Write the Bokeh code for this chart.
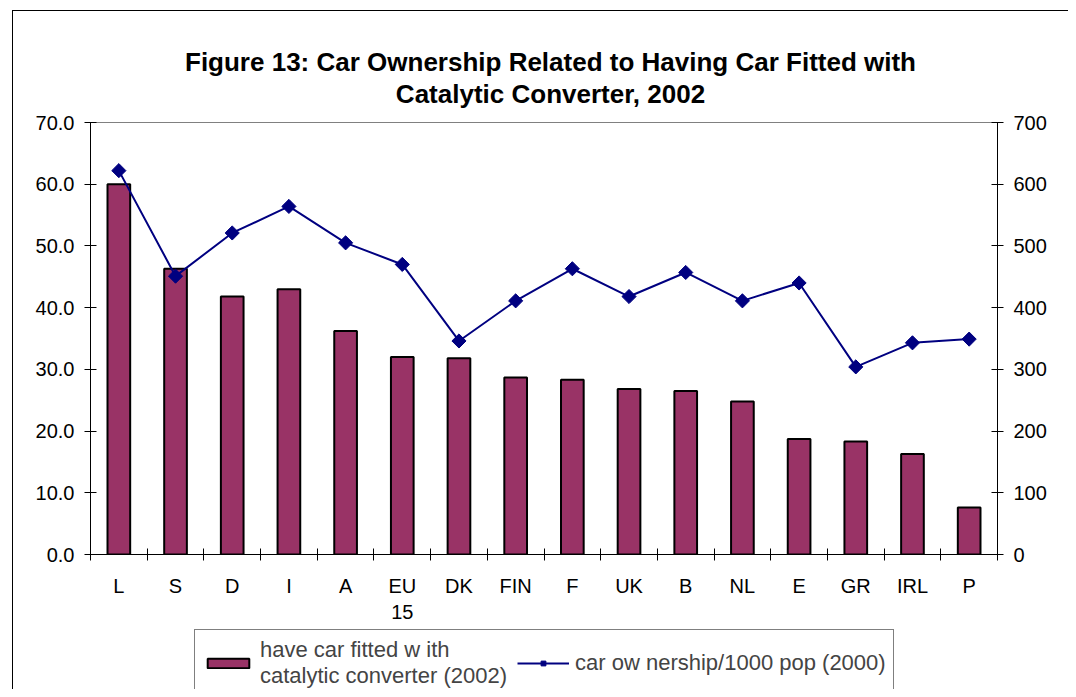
import math
from bokeh.plotting import figure
from bokeh.layouts import column
from bokeh.models import (Range1d, LinearAxis, FixedTicker, PrintfTickFormatter,
                          Legend, LegendItem, Label, ColumnDataSource)
from bokeh.embed import file_html
from bokeh.resources import INLINE

# ---- data ----
countries = ["L", "S", "D", "I", "A", "EU\n15", "DK", "FIN", "F", "UK", "B", "NL", "E", "GR", "IRL", "P"]
catalytic_2002 = [60.0, 46.3, 41.8, 43.0, 36.2, 32.0, 31.8, 28.7, 28.3, 26.8, 26.5, 24.8, 18.7, 18.3, 16.3, 7.6]
ownership_2000 = [622, 451, 521, 564, 505, 470, 346, 411, 463, 418, 457, 411, 440, 304, 343, 349]
left_ticks = [0, 10, 20, 30, 40, 50, 60, 70]
right_ticks = [0, 100, 200, 300, 400, 500, 600, 700]
title_lines = ["Figure 13: Car Ownership Related to Having Car Fitted with",
               "Catalytic Converter, 2002"]
bar_label = "have car fitted w ith\ncatalytic converter (2002)"
line_label = "car ow nership/1000 pop (2000)"

FONT = "Liberation Sans"
BAR = "#993366"
NAVY = "#000080"

xs = [i + 0.5 for i in range(len(countries))]
src = ColumnDataSource(dict(x=xs, cat=catalytic_2002, own=ownership_2000))

W = 1068
FRAME_L, FRAME_R, FRAME_T, FRAME_B = 90, 997, 122, 554
BL, BR = FRAME_L, W - FRAME_R
H0, H2 = 112, 61
H1 = 628 - H0


def blank(fig):
    fig.title = None
    fig.grid.visible = False
    fig.outline_line_color = None
    fig.background_fill_alpha = 0
    fig.border_fill_alpha = 0


# ---------------- title strip ----------------
tf = figure(width=W, height=H0, output_backend="svg", toolbar_location=None,
            x_range=Range1d(FRAME_L, FRAME_R), y_range=Range1d(H0, 0),
            min_border_left=BL, min_border_right=BR, min_border_top=0, min_border_bottom=0,
            x_axis_location=None, y_axis_location=None)
blank(tf)
tf.styles = {"background": "linear-gradient(#000,#000) 12px 10px / 1px 100% no-repeat, "
                           "linear-gradient(#000,#000) 12px 10px / 100% 1px no-repeat, #fff"}
for txt, base in zip(title_lines, [61, 93]):
    tf.add_layout(Label(x=550, y=base, text=txt, text_align="center", text_baseline="alphabetic",
                        text_font=FONT, text_font_size="26px", text_font_style="bold",
                        text_color="black"))

# ---------------- main chart ----------------
p = figure(width=W, height=H1, output_backend="svg", toolbar_location=None,
           x_range=Range1d(0, len(countries)), y_range=Range1d(0, 70),
           min_border_left=BL, min_border_right=BR, min_border_top=FRAME_T - H0,
           min_border_bottom=H1 - (FRAME_B - H0),
           x_axis_location=None, y_axis_location=None)
p.title = None
p.grid.visible = False
p.outline_line_color = "#808080"
p.outline_line_width = 1
p.background_fill_color = "white"
p.border_fill_alpha = 0
p.styles = {"background": "linear-gradient(#000,#000) 12px 0px / 1px 100% no-repeat, #fff"}

p.extra_y_ranges = {"own": Range1d(0, 700)}

xaxis = LinearAxis(ticker=FixedTicker(ticks=xs, minor_ticks=list(range(len(countries) + 1))))
xaxis.major_label_overrides = {x: c for x, c in zip(xs, countries)}
xaxis.major_tick_line_color = None
xaxis.major_tick_in = 0
xaxis.major_tick_out = 0
xaxis.minor_tick_line_color = "black"
xaxis.minor_tick_in = 6
xaxis.minor_tick_out = 6
xaxis.major_label_standoff = 14
p.add_layout(xaxis, "below")

yl = LinearAxis(ticker=FixedTicker(ticks=left_ticks), formatter=PrintfTickFormatter(format="%.1f"))
yl.major_label_standoff = 10
p.add_layout(yl, "left")

yr = LinearAxis(y_range_name="own", ticker=FixedTicker(ticks=right_ticks))
yr.major_label_standoff = 10
p.add_layout(yr, "right")

for ax in (xaxis, yl, yr):
    ax.axis_line_color = "black"
    ax.axis_line_width = 1
    ax.major_label_text_font = FONT
    ax.major_label_text_font_size = "20px"
    ax.major_label_text_color = "black"
for ax in (yl, yr):
    ax.minor_tick_line_color = None
    ax.major_tick_line_color = "black"
    ax.major_tick_in = 6
    ax.major_tick_out = 6

bars = p.vbar(x="x", top="cat", width=0.4, bottom=0, source=src,
              fill_color=BAR, line_color="black", line_width=2)
line = p.line(x="x", y="own", source=src, y_range_name="own", line_color=NAVY, line_width=2)
pts = p.scatter(x="x", y="own", source=src, y_range_name="own", marker="square",
                angle=math.pi / 4, size=10, fill_color=NAVY, line_color=NAVY)

# ---------------- legend strip ----------------
lg = figure(width=W, height=H2, output_backend="svg", toolbar_location=None,
            x_range=Range1d(0, 1), y_range=Range1d(0, 1),
            min_border_left=BL, min_border_right=BR, min_border_top=0, min_border_bottom=0,
            x_axis_location=None, y_axis_location=None)
blank(lg)
lg.styles = {"background": "linear-gradient(#000,#000) 12px 0px / 1px 100% no-repeat, #fff"}

# legend swatches (no visible data, only the legend shows their style)
swatch = ColumnDataSource(dict(x=[float("nan")], y=[float("nan")]))
lb = lg.vbar(x="x", top="y", width=0.4, source=swatch, fill_color=BAR, line_color="black", line_width=2)
ll = lg.line(x="x", y="y", source=swatch, line_color=NAVY, line_width=2)
lp = lg.scatter(x="x", y="y", source=swatch, marker="square", angle=math.pi / 4, size=10,
                fill_color=NAVY, line_color=NAVY)

legend = Legend(items=[LegendItem(label=bar_label, renderers=[lb]),
                       LegendItem(label=line_label, renderers=[ll, lp])],
                orientation="horizontal", location=(194 - BL, -8))
legend.border_line_color = "black"
legend.border_line_width = 1
legend.background_fill_color = "white"
legend.background_fill_alpha = 1
legend.label_text_font = FONT
legend.label_text_font_size = "22px"
legend.label_standoff = 6
legend.glyph_width = 52
legend.glyph_height = 12
legend.spacing = 10
legend.padding = 7
legend.margin = 0
lg.add_layout(legend)

layout = column(tf, p, lg, spacing=0)
open("out.html", "w").write(file_html(layout, INLINE))
